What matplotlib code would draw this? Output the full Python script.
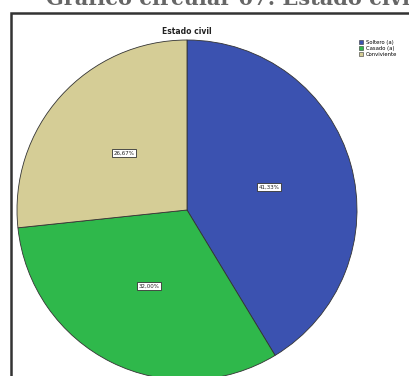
import matplotlib
matplotlib.use("Agg")
import matplotlib.pyplot as plt
from matplotlib.patches import Rectangle, Patch

# Estado civil de los encuestados (%)
categorias = ["Soltero (a)", "Casado (a)", "Conviviente"]
porcentajes = [41.33, 32.00, 26.67]
colores = ["#3b52b0", "#2fb84b", "#d5cd96"]

fig = plt.figure(figsize=(4.10, 3.76), dpi=100)
ax = fig.add_axes([0, 0, 1, 1])

# titulo del documento, cortado arriba
ax.text(232, 371, "Gráfico circular 07: Estado civil", ha="center", va="baseline",
        fontsize=15, fontweight="bold", family="DejaVu Serif", color="#666666")

# marco del grafico
ax.add_patch(Rectangle((11, -10), 420, 373, fill=False, edgecolor="#333333", lw=1.8))

ax.text(187, 344, "Estado civil", ha="center", va="center", fontsize=5.5,
        fontweight="bold", color="#222222")

wedges, _, autotexts = ax.pie(
    porcentajes, colors=colores, startangle=90, counterclock=False,
    center=(187, 166), radius=170, pctdistance=0.5,
    autopct=lambda p: f"{p:.2f}%".replace(".", ","),
    wedgeprops=dict(edgecolor="#333333", linewidth=0.6),
    textprops=dict(fontsize=4, color="#222222"),
    frame=True,
)
ax.set_xlim(0, 410)
ax.set_ylim(0, 376)
ax.set_aspect("equal")
ax.axis("off")
for t in autotexts:
    t.set_bbox(dict(boxstyle="square,pad=0.3", facecolor="white",
                    edgecolor="#333333", linewidth=0.6))

handles = [Patch(facecolor=c, edgecolor="#333333", linewidth=0.4) for c in colores]
ax.legend(handles, categorias, loc="upper left", bbox_to_anchor=(355 / 410, 340 / 376),
          frameon=False, fontsize=3.8, handlelength=0.9, handleheight=0.9,
          handletextpad=0.4, labelspacing=0.2, borderpad=0.2)

fig.savefig("out.png", dpi=100)
